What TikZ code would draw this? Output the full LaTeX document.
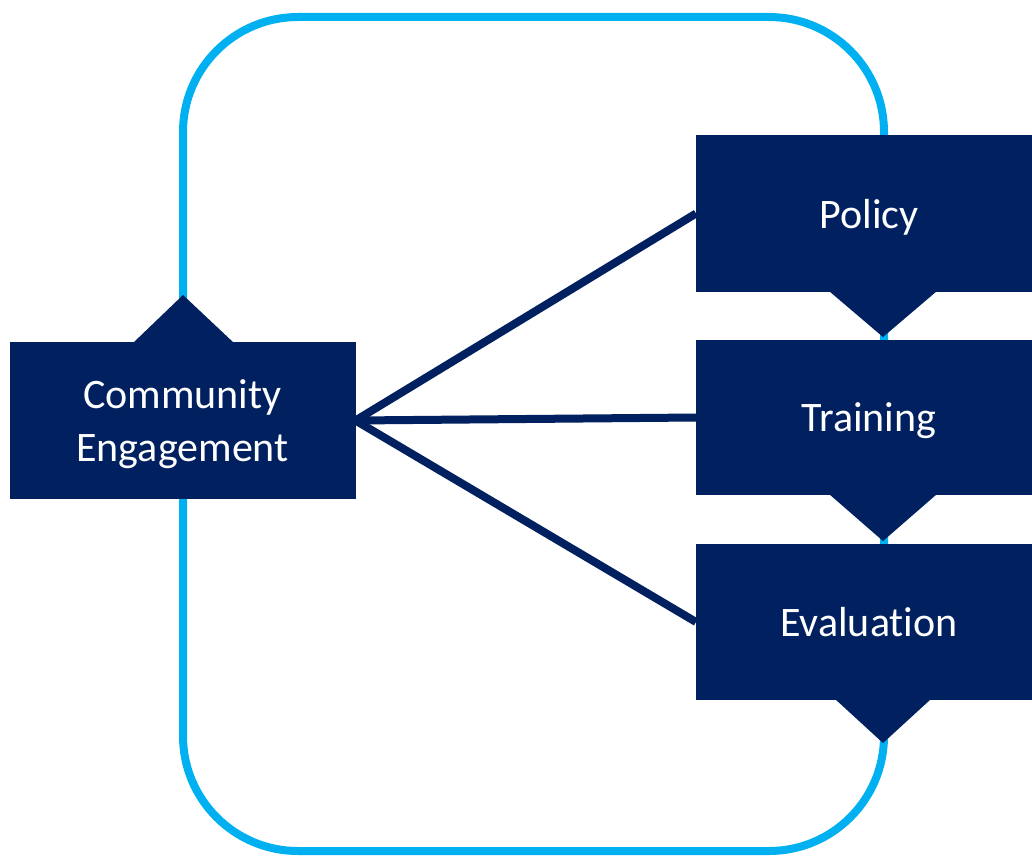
\documentclass[tikz,border=0pt]{standalone}
\usepackage{fontspec}
\setmainfont[Ligatures=NoCommon]{Carlito}
\definecolor{navy}{HTML}{002060}
\definecolor{skyline}{HTML}{00B0F0}
\begin{document}
\begin{tikzpicture}[x=1pt,y=-1pt,
  box/.style={fill=navy, text=white, font=\fontsize{42}{53}\selectfont, align=center, inner sep=0pt, outer sep=0pt, minimum width=346pt, text depth=0pt},
  link/.style={draw=navy, line width=8pt},
  ring/.style={draw=skyline, line width=8pt, rounded corners=115pt},
  tip/.style={fill=navy}]
\useasboundingbox (0,0) rectangle (1032,859);
\clip (0,0) rectangle (1032,859);
\draw[ring] (183,17) rectangle (884,851);
\node[box, minimum height=157pt, text depth=-6pt] (com) at (182.5,420.5) {Community\\Engagement};
\node[box, minimum height=157pt] (pol) at (869,213.5) {Policy};
\node[box, minimum height=155pt] (tra) at (869,417.5) {Training};
\node[box, minimum height=156pt] (eva) at (869,622) {Evaluation};
\fill[tip] (133,343) -- (183,295) -- (234,343) -- cycle;
\fill[tip] (829,291) -- (883,337) -- (937,291) -- cycle;
\fill[tip] (829,494) -- (883,541) -- (937,494) -- cycle;
\fill[tip] (835,699) -- (883,743) -- (931,699) -- cycle;
\draw[link] (com.east) -- (pol.west);
\draw[link] (com.east) -- (tra.west);
\draw[link] (com.east) -- (eva.west);
\end{tikzpicture}
\end{document}
